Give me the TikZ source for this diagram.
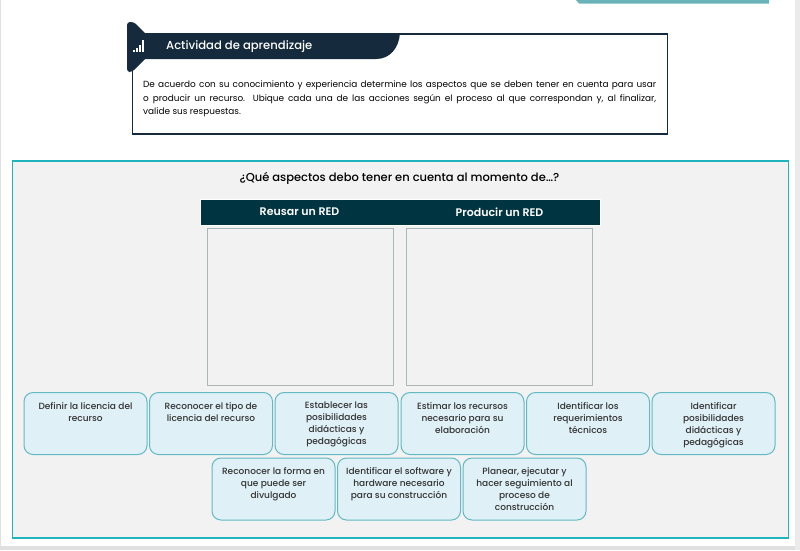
\documentclass[tikz,border=0pt]{standalone}
\usepackage{fontspec}
\setmainfont[BoldFont={Poppins Medium}]{Poppins}
\newfontfamily\semifont{Poppins SemiBold}
\definecolor{navy}{HTML}{152A3C}
\definecolor{tealbar}{HTML}{003440}
\definecolor{frame}{HTML}{1FB5BE}
\definecolor{panel}{HTML}{F2F2F2}
\definecolor{cardfill}{HTML}{DFF0F6}
\definecolor{cardline}{HTML}{62B9C4}
\definecolor{strip}{HTML}{69B3B8}
\definecolor{txt}{HTML}{333333}
\definecolor{zoneline}{HTML}{A9B8B5}
\tikzset{
 card/.style={draw=cardline,line width=1pt,fill=cardfill,rounded corners=9pt,minimum width=123pt,minimum height=62pt,inner sep=0pt},
 cardtext/.style={text=txt,font=\fontsize{9}{12}\selectfont\bfseries,align=center,anchor=north,inner sep=0pt},
 dropzone/.style={draw=zoneline,line width=.9pt,minimum width=186pt,minimum height=157pt,inner sep=0pt,anchor=north west},
 headtext/.style={text=white,font=\fontsize{11}{13}\semifont,inner sep=0pt}
}
\newcommand{\cardat}[3]{%
 \node[card] (#1) at (#2) {};
 \node[cardtext] (#1t) at ([yshift=-10pt]#1.north) {#3};
}
\begin{document}
\begin{tikzpicture}[x=1pt,y=-1pt]
\useasboundingbox (0,0) rectangle (800,550);
\fill[white] (0,0) rectangle (800,550);
\fill[black!12] (0,0) rectangle (1,546);
\fill[black!12] (0,546) rectangle (800,550);
\fill[black!8] (795,0) rectangle (800,550);
\fill[strip] (576,0) -- (769,0) -- (769,3.5) -- (579,3.5) -- cycle;
% instruction box
\node[draw=navy,line width=1.5pt,fill=white,minimum width=535pt,minimum height=100pt,anchor=north west,inner sep=0pt] (box) at (131.5,33) {};
% banner
\fill[navy] (132,33) -- (400,33) .. controls (399,48) and (390,59) .. (376,59) -- (132,59) -- cycle;
\fill[navy,rounded corners=3pt] (127,22) -- (134,22) -- (158,46) -- (132,72) -- (127,72) -- cycle;
\foreach \i/\h in {0/2.5,1/4.5,2/7.5,3/12}{
 \fill[white] (133+\i*3,52) rectangle ++(2.2,-\h);
}
\node[text=white,font=\fontsize{11.6}{13}\selectfont\bfseries,anchor=west,inner sep=0pt] (title) at (166,46.5) {Actividad de aprendizaje};
\node[text=black,font=\fontsize{8.9}{13.6}\selectfont,align=justify,text width=513pt,anchor=north west,inner sep=0pt] (intro) at (143,80.5) {De acuerdo con su conocimiento y experiencia determine los aspectos que se deben tener en cuenta para usar\linebreak o producir un recurso. Ubique cada una de las acciones según el proceso al que correspondan y, al finalizar,\linebreak valide sus respuestas.};
% panel
\node[draw=frame,line width=1.5pt,fill=panel,minimum width=776pt,minimum height=377pt,anchor=north west,inner sep=0pt] (panelbox) at (11.5,160) {};
\node[text=black,font=\fontsize{11.5}{14}\selectfont\bfseries,inner sep=0pt] (question) at (399.5,178.5) {¿Qué aspectos debo tener en cuenta al momento de…?};
\node[draw=white,line width=.7pt,fill=tealbar,minimum width=400pt,minimum height=26pt,anchor=north west,inner sep=0pt] (bar) at (200,199) {};
\node[headtext] (h1) at (299.5,212) {Reusar un RED};
\node[headtext] (h2) at (499.5,212) {Producir un RED};
\node[dropzone] (d1) at (206.5,228) {};
\node[dropzone] (d2) at (406,228) {};
% cards
\cardat{c1}{85.5,423.5}{Definir la licencia del\\recurso}
\cardat{c2}{211,423.5}{Reconocer el tipo de\\licencia del recurso}
\cardat{c3}{336.5,423.5}{Establecer las\\posibilidades\\didácticas y\\pedagógicas}
\cardat{c4}{462.5,423.5}{Estimar los recursos\\necesario para su\\elaboración}
\cardat{c5}{588,423.5}{Identificar los\\requerimientos\\técnicos}
\cardat{c6}{713.5,423.5}{Identificar\\posibilidades\\didácticas y\\pedagógicas}
\cardat{c7}{273.5,489}{Reconocer la forma en\\que puede ser\\divulgado}
\cardat{c8}{399,489}{Identificar el software y\\hardware necesario\\para su construcción}
\cardat{c9}{524.5,489}{Planear, ejecutar y\\hacer seguimiento al\\proceso de\\construcción}
\end{tikzpicture}
\end{document}
